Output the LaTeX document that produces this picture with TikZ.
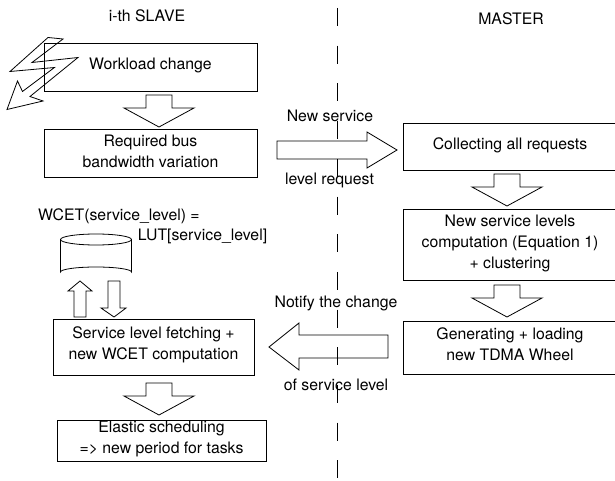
\documentclass[tikz,border=0pt]{standalone}
\usepackage{fontspec}
\setmainfont{TeX Gyre Heros}
\usetikzlibrary{calc}

\tikzset{
  boxnode/.style={draw,line width=0.8pt,inner sep=0pt},
  textnode/.style={align=center,inner sep=0pt,font=\fontsize{15.8}{21}\selectfont},
  blockarrow/.style={draw,fill=white,line width=0.8pt,line join=miter},
  bigdown/.pic={
    \draw[blockarrow] (-13,0) -- (13,0) -- (13,13) -- (35,13) -- (0,32) -- (-35,13) -- (-13,13) -- cycle;
  }
}

\begin{document}
\begin{tikzpicture}[x=1pt,y=-1pt]
 \useasboundingbox (0,0) rectangle (615,481);

    % headers
    \node[textnode] (slave_label) at (147,16) {i-th SLAVE};
    \node[textnode] (master_label) at (511,19) {MASTER};

    % slave boxes
    \node[boxnode,minimum width=213pt,minimum height=48pt] (workload) at (150.5,67) {};
    \node[boxnode,minimum width=213pt,minimum height=48pt] (required) at (150.5,153) {};
    \node[boxnode,minimum width=201pt,minimum height=56pt] (fetching) at (153.5,347) {};
    \node[boxnode,minimum width=209pt,minimum height=41pt] (elastic) at (161.5,440.5) {};

    \node[textnode] (workload_text) at ($(workload)+(0,-2)$) {Workload change};
    \node[textnode] (required_text) at ($(required)+(0,-1.5)$) {Required bus\\bandwidth variation};
    \node[textnode] (fetching_text) at ($(fetching)+(0,-2.5)$) {Service level fetching +\\new WCET computation};
    \node[textnode] (elastic_text) at ($(elastic)+(0,-1.5)$) {Elastic scheduling\\=> new period for tasks};

    % master boxes, they run off the page
    \node[boxnode,minimum width=217pt,minimum height=47pt] (collecting) at (511.5,146.5) {};
    \node[boxnode,minimum width=217pt,minimum height=71pt] (computation) at (511.5,244.5) {};
    \node[boxnode,minimum width=217pt,minimum height=53pt] (generating) at (511.5,347.5) {};

    \node[textnode] (collecting_text) at (510,145) {Collecting all requests};
    \node[textnode] (computation_text) at (510,243) {New service levels\\computation (Equation 1)\\+ clustering};
    \node[textnode] (generating_text) at (510,344) {Generating + loading\\new TDMA Wheel};

    % lightning
    \draw[line width=0.8pt] (48,37.5) -- (63,39) -- (32,62.5) -- (78,57.5) -- (30,96.5) -- (43,101)
        -- (7,109.5) -- (17.5,81) -- (22.5,91.5) -- (54.5,67.5) -- (10,71.5) -- cycle;

    % database
    \draw[line width=0.8pt] (60.5,239.5) -- (60.5,272) arc[start angle=180,end angle=360,x radius=35.5,y radius=5]
        -- (131.5,239.5);
    \draw[line width=0.8pt] (96,239.5) ellipse[x radius=35.5,y radius=5.5];
    \node[textnode,anchor=west] (wcet_label) at (38,216) {WCET(service\_level) =};
    \node[textnode] (lut_label) at (202.5,236.5) {LUT[service\_level]};

    % vertical arrows
    \pic at (159,95) {bigdown};
    \pic at (159,383) {bigdown};
    \pic at (507,174) {bigdown};
    \pic at (507,285) {bigdown};
    \draw[blockarrow] (74,317) -- (74,291) -- (68,291) -- (80,281) -- (92,291) -- (86,291) -- (86,317) -- cycle;
    \draw[blockarrow] (108,281) -- (120,281) -- (120,308) -- (126,308) -- (114,317) -- (101,308) -- (108,308) -- cycle;

    % horizontal arrows
    \draw[blockarrow] (277,141) -- (367,141) -- (367,132) -- (397,150) -- (367,168) -- (367,159) -- (277,159) -- cycle;
    \draw[blockarrow] (388,335) -- (299,335) -- (299,323) -- (269,347) -- (299,370) -- (299,358) -- (388,358) -- cycle;

    % divide slave from master
    \draw[line width=0.8pt,dash pattern=on 18pt off 19.7pt] (337,8) -- (337,481);

    \node[textnode] (request_above) at (330,116) {New service};
    \node[textnode] (request_below) at (329.5,180.5) {level request};
    \node[textnode] (notify_above) at (336,303) {Notify the change};
    \node[textnode] (notify_below) at (336,385) {of service level};
\end{tikzpicture}
\end{document}
